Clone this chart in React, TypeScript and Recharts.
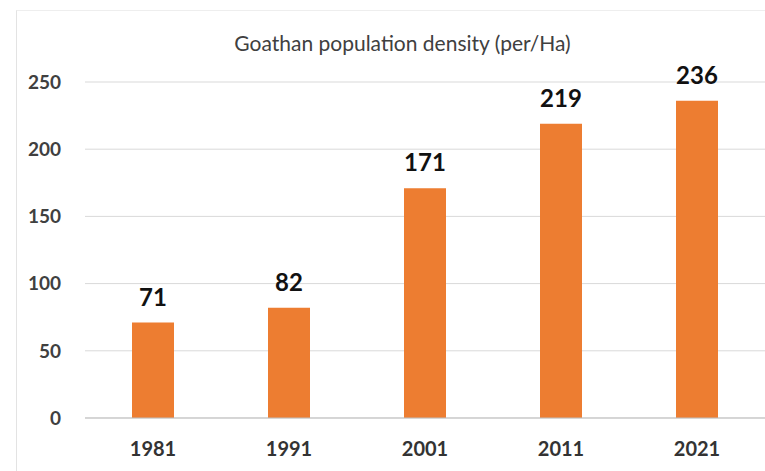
import { BarChart, Bar, XAxis, YAxis, CartesianGrid, LabelList } from "recharts";

const years = ["1981", "1991", "2001", "2011", "2021"];
const density = [71, 82, 171, 219, 236];
const yTicks = [0, 50, 100, 150, 200, 250];

const data = years.map((year, i) => ({ year, density: density[i] }));

const FONT = "Lato, 'Open Sans', sans-serif";

export default function App() {
  return (
    <div style={{ position: "absolute", left: 0, top: 0, width: 765, height: 471, background: "#fff", fontFamily: FONT }}>
      {/* faint frame from the cropped source */}
      <div
        style={{
          position: "absolute",
          left: 16,
          top: 10,
          right: 0,
          bottom: 0,
          borderLeft: "1px solid #e3e3e3",
          borderTop: "1px solid #eeeeee",
        }}
      />
      <div
        style={{
          position: "absolute",
          left: 0,
          width: 805,
          top: 30,
          textAlign: "center",
          fontSize: 21,
          color: "#404040",
        }}
      >
        Goathan population density (per/Ha)
      </div>
      <div style={{ position: "absolute", left: 0, top: 0 }}>
        <BarChart
          width={765}
          height={471}
          data={data}
          margin={{ top: 82, right: 0, bottom: 23, left: 0 }}
        >
          <CartesianGrid vertical={false} stroke="#d9d9d9" />
          <XAxis
            dataKey="year"
            tickLine={false}
            axisLine={{ stroke: "#bfbfbf" }}
            tick={{ fontSize: 20, fontWeight: 700, fill: "#333", fontFamily: FONT }}
            tickMargin={18}
          />
          <YAxis
            domain={[0, 250]}
            ticks={yTicks}
            width={85}
            axisLine={false}
            tickLine={false}
            tick={{ fontSize: 19, fontWeight: 700, fill: "#404040", fontFamily: FONT }}
            tickMargin={18}
          />
          <Bar dataKey="density" fill="#ed7d31" barSize={42} isAnimationActive={false}>
            <LabelList
              dataKey="density"
              position="top"
              offset={17}
              style={{ fontSize: 24, fontWeight: 700, fill: "#111", fontFamily: FONT }}
            />
          </Bar>
        </BarChart>
      </div>
    </div>
  );
}
